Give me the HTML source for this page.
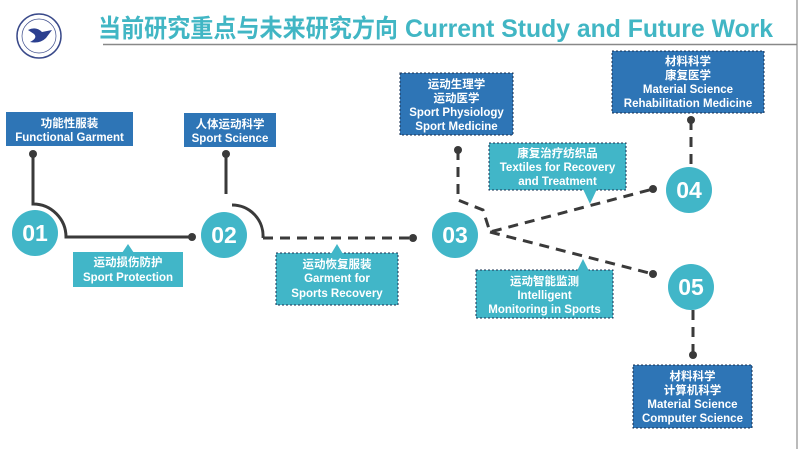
<!DOCTYPE html>
<html><head><meta charset="utf-8"><style>
html,body{margin:0;padding:0;background:#fff}
svg{display:block}
text{font-family:"Liberation Sans","Noto Sans CJK SC",sans-serif;font-weight:bold}
</style></head><body>
<svg width="799" height="449" viewBox="0 0 799 449" xmlns="http://www.w3.org/2000/svg">
<rect x="0" y="0" width="799" height="449" fill="#fff"/>
<line x1="797" y1="0" x2="797" y2="449" stroke="#bbb" stroke-width="2"/>
<!-- logo -->
<circle cx="39" cy="36" r="22" fill="#fff" stroke="#3a4a8a" stroke-width="1.5"/>
<circle cx="39" cy="36" r="17" fill="none" stroke="#3a4a8a" stroke-width="0.7"/>
<path d="M28 30 Q36 26 42 32 L52 30 L46 38 Q40 44 30 42 Q38 38 34 34 Z" fill="#2b3f8f"/>
<!-- title -->
<text x="98" y="37" font-size="25" fill="#41b6c4" textLength="300" lengthAdjust="spacingAndGlyphs">当前研究重点与未来研究方向</text>
<text x="405" y="37" font-size="25" fill="#41b6c4" textLength="368" lengthAdjust="spacingAndGlyphs">Current Study and Future Work</text>
<line x1="103" y1="44.5" x2="797" y2="44.5" stroke="#888" stroke-width="1.5"/>

<g fill="none" stroke="#3a3a3a" stroke-width="3">
<path d="M33 154 V204 A33 33 0 0 1 66 237 H192"/>
<path d="M226 154 V194"/>
<path d="M232 205 A31 31 0 0 1 263 238" />
<path d="M263 238 H413" stroke-dasharray="10 7"/>
<path d="M458 150 V200 L483 210 L490 232 L653 189 M490 232 L653 274" stroke-dasharray="10 7"/>
<path d="M691 120 V167" stroke-dasharray="10 7"/>
<path d="M693 310 V355" stroke-dasharray="10 7"/>
</g>
<g fill="#3a3a3a">
<circle cx="33" cy="154" r="4"/><circle cx="192" cy="237" r="4"/>
<circle cx="226" cy="154" r="4"/><circle cx="413" cy="238" r="4"/>
<circle cx="458" cy="150" r="4"/><circle cx="653" cy="189" r="4"/>
<circle cx="653" cy="274" r="4"/><circle cx="691" cy="120" r="4"/>
<circle cx="693" cy="355" r="4"/>
</g>

<g fill="#41b6c8">
<circle cx="35" cy="233" r="23"/><circle cx="224" cy="235" r="23"/>
<circle cx="455" cy="235" r="23"/><circle cx="689" cy="190" r="23"/>
<circle cx="691" cy="287" r="23"/>
</g>
<g fill="#fff" font-size="23" text-anchor="middle">
<text x="35" y="241">01</text><text x="224" y="243">02</text>
<text x="455" y="243">03</text><text x="689" y="198">04</text>
<text x="691" y="295">05</text>
</g>

<!-- blue boxes -->
<rect x="6" y="112" width="127" height="34" fill="#2e75b6"/>
<rect x="184" y="113" width="92" height="34" fill="#2e75b6"/>
<rect x="400" y="73" width="113" height="62" fill="#2e75b6" stroke="#1a3050" stroke-dasharray="2 2"/>
<rect x="612" y="51" width="152" height="62" fill="#2e75b6" stroke="#1a3050" stroke-dasharray="2 2"/>
<rect x="633" y="365" width="119" height="63" fill="#2e75b6" stroke="#1a3050" stroke-dasharray="2 2"/>

<!-- teal boxes -->
<g fill="#41b6c8">
<rect x="73" y="252" width="110" height="35"/><path d="M122 253 L128 244 L134 253Z"/>
<rect x="276" y="253" width="122" height="52" stroke="#1a3050" stroke-dasharray="2 2"/><path d="M331 254 L337 244 L343 254Z"/>
<rect x="489" y="143" width="137" height="47" stroke="#1a3050" stroke-dasharray="2 2"/><path d="M583 189 L590 204 L597 189Z"/>
<rect x="476" y="270" width="137" height="48" stroke="#1a3050" stroke-dasharray="2 2"/><path d="M577 271 L583 259 L589 271Z"/>
</g>

<g fill="#fff" font-size="11.5" text-anchor="middle">
<text x="69.5" y="127">功能性服装</text>
<text x="69.5" y="141">Functional Garment</text>
<text x="230" y="128">人体运动科学</text>
<text x="230" y="142">Sport Science</text>
<text x="456.5" y="88">运动生理学</text>
<text x="456.5" y="102">运动医学</text>
<text x="456.5" y="116">Sport Physiology</text>
<text x="456.5" y="130">Sport Medicine</text>
<text x="688" y="65">材料科学</text>
<text x="688" y="79">康复医学</text>
<text x="688" y="93">Material Science</text>
<text x="688" y="107">Rehabilitation Medicine</text>
<text x="692.5" y="380">材料科学</text>
<text x="692.5" y="394">计算机科学</text>
<text x="692.5" y="408">Material Science</text>
<text x="692.5" y="422">Computer Science</text>
<text x="128" y="266">运动损伤防护</text>
<text x="128" y="281">Sport Protection</text>
<text x="337" y="268">运动恢复服装</text>
<text x="337" y="282">Garment for</text>
<text x="337" y="297">Sports Recovery</text>
<text x="557.5" y="157">康复治疗纺织品</text>
<text x="557.5" y="171">Textiles for Recovery</text>
<text x="557.5" y="185">and Treatment</text>
<text x="544.5" y="285">运动智能监测</text>
<text x="544.5" y="299">Intelligent</text>
<text x="544.5" y="313">Monitoring in Sports</text>
</g>
</svg>
</body></html>
